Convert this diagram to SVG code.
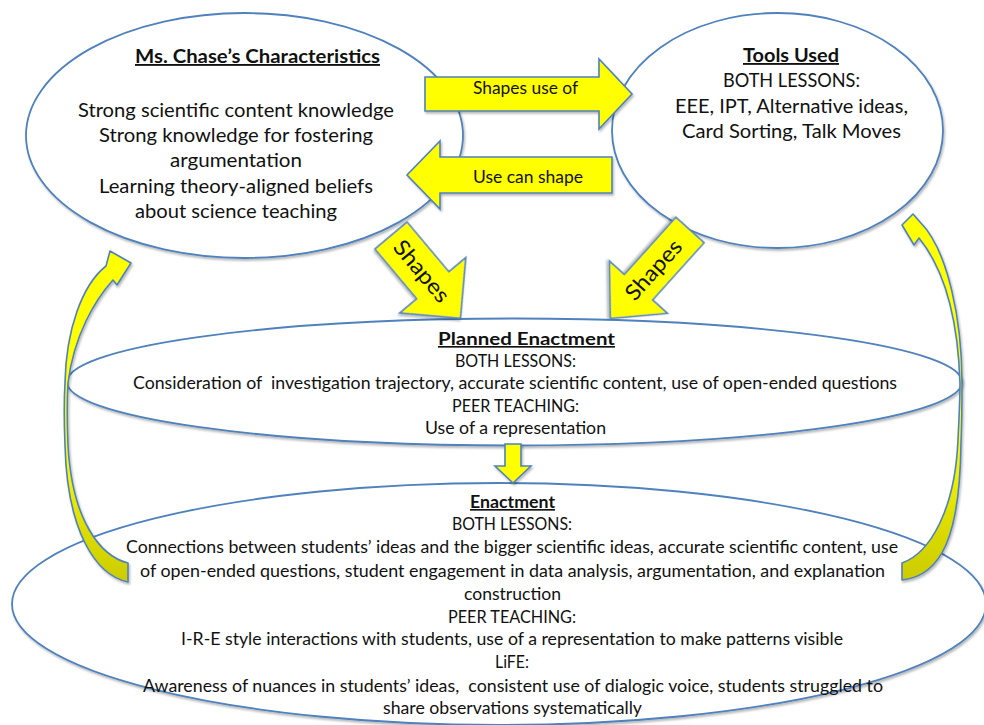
<svg xmlns="http://www.w3.org/2000/svg" width="984" height="725" viewBox="0 0 984 725">
  <defs>
    <style>
      .oval { fill: #ffffff; stroke: #4f81bd; stroke-width: 1.8; filter: url(#shadow); }
      .arrow { fill: #ffff00; stroke: #4f81bd; stroke-width: 1.6; stroke-linejoin: miter; filter: url(#shadow); }
      .curved { fill: url(#bandShade); stroke: #4f81bd; stroke-width: 1.6; stroke-linejoin: round; filter: url(#shadow); }
      text { font-family: Lato, "Liberation Sans", sans-serif; fill: #111111; }
      .big { font-size: 18.5px; }
      .mid { font-size: 16.5px; }
      .lbl { font-size: 17px; }
      .diag { font-size: 22px; }
      .title { font-weight: bold; text-decoration: underline; }
    </style>
    <filter id="shadow" x="-10%" y="-10%" width="120%" height="130%">
      <feDropShadow dx="1.2" dy="2" stdDeviation="1.3" flood-color="#000000" flood-opacity="0.28"/>
    </filter>
    <linearGradient id="bandShade" x1="0" y1="0" x2="0" y2="1">
      <stop offset="0" stop-color="#ffff00"/>
      <stop offset="0.6" stop-color="#ffff00"/>
      <stop offset="0.85" stop-color="#dcdc00"/>
      <stop offset="1" stop-color="#cccc00"/>
    </linearGradient>
  </defs>

  <rect width="984" height="725" fill="#ffffff"/>

  <!-- Teacher characteristics -->
  <g id="characteristics">
    <ellipse class="oval" cx="244.5" cy="135.5" rx="218.5" ry="122.5"/>
    <text class="big title" x="135" y="63" textLength="245" lengthAdjust="spacingAndGlyphs">Ms. Chase’s Characteristics</text>
    <text class="big" x="78" y="117" textLength="316" lengthAdjust="spacingAndGlyphs">Strong scientific content knowledge</text>
    <text class="big" x="99" y="142" textLength="274" lengthAdjust="spacingAndGlyphs">Strong knowledge for fostering</text>
    <text class="big" x="170" y="167" textLength="132" lengthAdjust="spacingAndGlyphs">argumentation</text>
    <text class="big" x="99" y="193" textLength="274" lengthAdjust="spacingAndGlyphs">Learning theory-aligned beliefs</text>
    <text class="big" x="135" y="218" textLength="202" lengthAdjust="spacingAndGlyphs">about science teaching</text>
  </g>

  <!-- Tools used -->
  <g id="tools">
    <ellipse class="oval" cx="777.5" cy="130.5" rx="165.5" ry="117.5"/>
    <text class="big title" x="743" y="62" textLength="96" lengthAdjust="spacingAndGlyphs">Tools Used</text>
    <text class="big" x="723" y="87" textLength="137" lengthAdjust="spacingAndGlyphs">BOTH LESSONS:</text>
    <text class="big" x="675" y="113" textLength="233" lengthAdjust="spacingAndGlyphs">EEE, IPT, Alternative ideas,</text>
    <text class="big" x="682" y="138" textLength="219" lengthAdjust="spacingAndGlyphs">Card Sorting, Talk Moves</text>
  </g>

  <!-- Planned enactment -->
  <g id="planned">
    <ellipse class="oval" cx="514.5" cy="382" rx="447.5" ry="63.5"/>
    <text class="mid title" x="438" y="345" textLength="177" lengthAdjust="spacingAndGlyphs">Planned Enactment</text>
    <text class="mid" x="455" y="367" textLength="121" lengthAdjust="spacingAndGlyphs">BOTH LESSONS:</text>
    <text class="mid" x="133" y="389" textLength="764" lengthAdjust="spacingAndGlyphs" xml:space="preserve">Consideration of  investigation trajectory, accurate scientific content, use of open-ended questions</text>
    <text class="mid" x="452" y="412" textLength="127" lengthAdjust="spacingAndGlyphs">PEER TEACHING:</text>
    <text class="mid" x="425" y="434" textLength="181" lengthAdjust="spacingAndGlyphs">Use of a representation</text>
  </g>

  <!-- Enactment -->
  <g id="enactment">
    <ellipse class="oval" cx="499" cy="604" rx="487" ry="121"/>
    <text class="mid title" x="470" y="508" textLength="85" lengthAdjust="spacingAndGlyphs">Enactment</text>
    <text class="mid" x="452" y="530" textLength="120" lengthAdjust="spacingAndGlyphs">BOTH LESSONS:</text>
    <text class="mid" x="126" y="553" textLength="772" lengthAdjust="spacingAndGlyphs">Connections between students’ ideas and the bigger scientific ideas, accurate scientific content, use</text>
    <text class="mid" x="140" y="577" textLength="745" lengthAdjust="spacingAndGlyphs">of open-ended questions, student engagement in data analysis, argumentation, and explanation</text>
    <text class="mid" x="464" y="600" textLength="97" lengthAdjust="spacingAndGlyphs">construction</text>
    <text class="mid" x="448" y="623" textLength="128" lengthAdjust="spacingAndGlyphs">PEER TEACHING:</text>
    <text class="mid" x="181" y="645" textLength="662" lengthAdjust="spacingAndGlyphs">I-R-E style interactions with students, use of a representation to make patterns visible</text>
    <text class="mid" x="495" y="668" textLength="34" lengthAdjust="spacingAndGlyphs">LiFE:</text>
    <text class="mid" x="143" y="692" textLength="740" lengthAdjust="spacingAndGlyphs" xml:space="preserve">Awareness of nuances in students’ ideas,  consistent use of dialogic voice, students struggled to</text>
    <text class="mid" x="383" y="714" textLength="259" lengthAdjust="spacingAndGlyphs">share observations systematically</text>
  </g>

  <!-- Connectors -->
  <g id="connectors">
    <!-- feedback loops from enactment back up -->
    <path id="loop-left" class="curved" d="M128,563 C100,556 72,520 68,445 C67,420 67,400 68,383 C74,335 95,300 113,280 L117,285 L131,263 L110,251 L106,266 C82,285 66,330 65,383 C64,400 64,420 65,445 C67,530 95,575 128,582 Z"/>
    <path id="loop-right" class="curved" d="M902,563 C930,553 955,510 958,440 C959,420 960,400 960,383 C958,320 945,270 919,238 L914,245 L902,225 L913,214 L920,222 C948,250 962,320 962,383 C962,400 962,420 961,443 C960,535 942,576 902,580 Z"/>

    <!-- characteristics -> tools -->
    <g id="shapes-use-of">
      <path class="arrow" d="M425,77 L599,77 L599,59 L632,94 L599,129 L599,111 L425,111 Z"/>
      <text class="lbl" x="473" y="94" textLength="105" lengthAdjust="spacingAndGlyphs">Shapes use of</text>
    </g>

    <!-- tools -> characteristics -->
    <g id="use-can-shape">
      <path class="arrow" d="M612,157 L440,157 L440,141 L407,175 L440,209 L440,193 L612,193 Z"/>
      <text class="lbl" x="473" y="183" textLength="110" lengthAdjust="spacingAndGlyphs">Use can shape</text>
    </g>

    <!-- characteristics -> planned enactment -->
    <g id="shapes-left" transform="translate(391,235.5) rotate(50)">
      <path class="arrow" d="M0,-21 L65,-21 L65,-43 L108,0 L65,43 L65,21 L0,21 Z"/>
      <text class="diag" x="47" y="7" text-anchor="middle" textLength="74" lengthAdjust="spacingAndGlyphs">Shapes</text>
    </g>

    <!-- tools -> planned enactment -->
    <g id="shapes-right" transform="translate(690,230) rotate(132)">
      <path class="arrow" d="M0,-19 L77,-19 L77,-39 L119,0 L77,39 L77,19 L0,19 Z"/>
      <text class="diag" transform="translate(54,0) rotate(180)" x="0" y="7" text-anchor="middle" textLength="73" lengthAdjust="spacingAndGlyphs">Shapes</text>
    </g>

    <!-- planned enactment -> enactment -->
    <path id="down" class="arrow" d="M505,444 L521,444 L521,466 L531,466 L513,483 L495,466 L505,466 Z"/>
  </g>
</svg>
